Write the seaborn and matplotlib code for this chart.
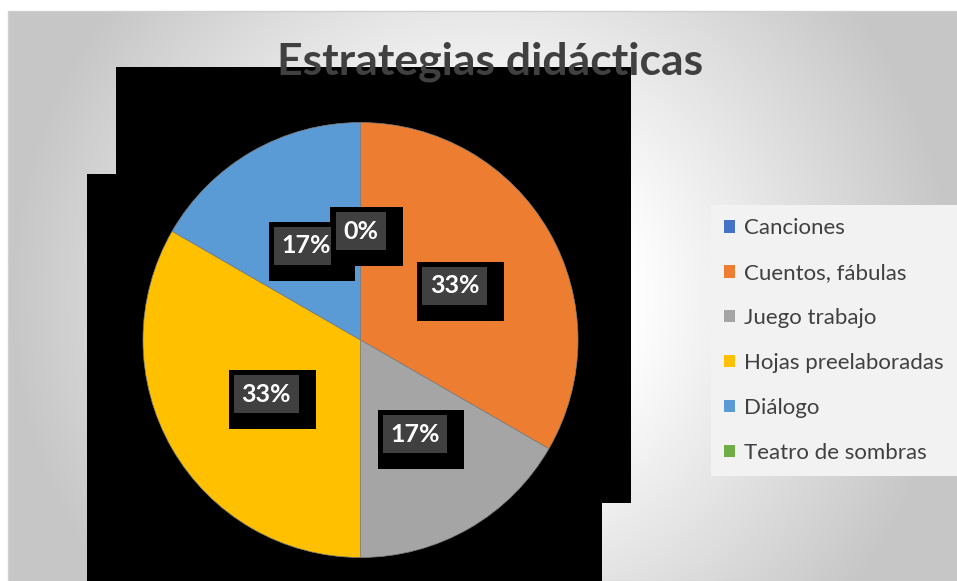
import numpy as np
import matplotlib
matplotlib.use('Agg')
import matplotlib.pyplot as plt
from matplotlib.patches import Rectangle
import seaborn as sns

# data
categories = ['Canciones', 'Cuentos, fábulas', 'Juego trabajo',
              'Hojas preelaboradas', 'Diálogo', 'Teatro de sombras']
values = [0, 2, 1, 2, 1, 0]
colors = ['#4472C4', '#ED7D31', '#A5A5A5', '#FFC000', '#5B9BD5', '#70AD47']
title = 'Estrategias didácticas'

sns.set_style('white')
plt.rcParams['font.family'] = ['Lato', 'DejaVu Sans']

W, H = 957, 581
fig = plt.figure(figsize=(W / 100, H / 100), dpi=100)
fig.patch.set_facecolor('white')


def px(x0, y0, x1, y1):
    # pixel box (top-left origin) -> figure fraction rect
    return [x0 / W, 1 - y1 / H, (x1 - x0) / W, (y1 - y0) / H]


# --- chart area background (radial gradient) ---
bg = fig.add_axes(px(8, 11, W, H), zorder=-2)
xx, yy = np.meshgrid(np.arange(8, W), np.arange(11, H))
r = np.hypot(xx - 482, yy - 296)
t = np.clip((r - 150) / 325, 0, 1)
shade = 1 - (57 / 255) * t
bg.imshow(np.dstack([shade, shade, shade]), aspect='auto', interpolation='bilinear')
bg.set_axis_off()
fig.add_artist(Rectangle((8 / W, 0), 1, 1 - 11 / H, transform=fig.transFigure,
                         fill=False, ec='#d0d0d0', lw=1, zorder=-1))

# black shadow blocks behind the plot area
for x0, y0, x1, y1 in [(116, 67, 631, 503), (87, 174, 602, H)]:
    b = px(x0, y0, x1, y1)
    fig.add_artist(Rectangle((b[0], b[1]), b[2], b[3], transform=fig.transFigure,
                             fc='black', ec='none', zorder=0))

# --- pie ---
rad = 217.5
cx, cy = 360.5, 340
ax = fig.add_axes(px(cx - rad, cy - rad, cx + rad, cy + rad), zorder=2)
wedges, _, autotexts = ax.pie(values, colors=colors, startangle=90, counterclock=False,
                              autopct='%.0f%%', pctdistance=0.5,
                              wedgeprops=dict(edgecolor='#7f7f7f', linewidth=0.5))
ax.set_xlim(-1, 1)
ax.set_ylim(-1, 1)
ax.set_aspect('equal')
ax.set_axis_off()
ax.patch.set_alpha(0)

for i, t in enumerate(autotexts):
    t.set(fontsize=18, fontweight='bold', color='white', ha='center', va='center',
          zorder=4 + 2 * i)
    t.set_bbox(dict(boxstyle='square,pad=0.3', fc='#404040', ec='none'))

# black shadows under the data labels, sized from the drawn label boxes
fig.canvas.draw()
inv = fig.transFigure.inverted()
for i, t in enumerate(autotexts):
    ext = t.get_bbox_patch().get_window_extent()
    (fx0, fy0) = inv.transform((ext.x0 - 5, ext.y0 - 16))
    (fx1, fy1) = inv.transform((ext.x1 + 17, ext.y1 + 5))
    ax.add_artist(Rectangle((fx0, fy0), fx1 - fx0, fy1 - fy0, transform=fig.transFigure,
                            fc='black', ec='none', zorder=3 + 2 * i, clip_on=False))

# --- title ---
fig.text(490 / W, 1 - 62 / H, title, ha='center', va='center', fontsize=32,
         fontweight='bold', color='#404040', zorder=5)

# --- legend ---
leg = fig.legend(wedges, categories, loc='upper left',
                 bbox_to_anchor=(711 / W, 1 - 205 / H), borderaxespad=0,
                 fontsize=16, frameon=True, fancybox=False,
                 handlelength=0.48, handleheight=0.48, handletextpad=0.4,
                 labelspacing=1.12, borderpad=0.6)
leg.get_frame().set_facecolor('#f2f2f2')
leg.get_frame().set_edgecolor('none')
leg.get_frame().set_alpha(1)
for txt in leg.get_texts():
    txt.set_color('#404040')
for h in leg.legend_handles:
    h.set_edgecolor('none')
leg.set_zorder(5)

fig.savefig('out.png', dpi=100)
